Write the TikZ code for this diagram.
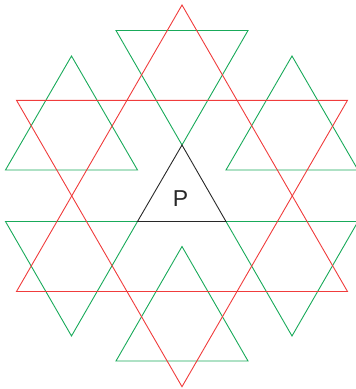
\documentclass[tikz,border=0pt]{standalone}
\usepackage{fontspec}
\setmainfont{Liberation Sans}
\definecolor{tred}{RGB}{240,60,60}
\definecolor{tgreen}{RGB}{25,170,90}
\definecolor{tblack}{RGB}{40,40,40}
\begin{document}
\begin{tikzpicture}[x=1pt,y=-1pt,
  redtri/.style={draw=tred,line width=0.9pt,line join=miter},
  greentri/.style={draw=tgreen,line width=0.9pt,line join=miter},
  ptri/.style={draw=tblack,line width=0.9pt,line join=miter}]
\useasboundingbox (0,0) rectangle (356,389);
\clip (0,0) rectangle (356,389);
% green small triangles
\coordinate (g1a) at (71.5,56); \coordinate (g1b) at (5.5,170); \coordinate (g1c) at (137.5,170);
\coordinate (g2a) at (292,56); \coordinate (g2b) at (226,170); \coordinate (g2c) at (358,170);
\coordinate (g3a) at (116,30.5); \coordinate (g3b) at (248,30.5); \coordinate (g3c) at (182,145);
\coordinate (g4a) at (182,246.5); \coordinate (g4b) at (116,361); \coordinate (g4c) at (248,361);
\coordinate (g5a) at (5.5,221.5); \coordinate (g5b) at (137.5,221.5); \coordinate (g5c) at (71.5,336);
\coordinate (g6a) at (226,221.5); \coordinate (g6b) at (358,221.5); \coordinate (g6c) at (292,336);
\foreach \g in {g1,g2,g3,g4,g5,g6}
  \draw[greentri] (\g a) -- (\g b) -- (\g c) -- cycle;
% red large triangles
\coordinate (r1a) at (182,5); \coordinate (r1b) at (16.5,291.5); \coordinate (r1c) at (347.5,291.5);
\coordinate (r2a) at (16.5,100.3); \coordinate (r2b) at (347.5,100.3); \coordinate (r2c) at (182,386.7);
\draw[redtri] (r1a) -- (r1b) -- (r1c) -- cycle;
\draw[redtri] (r2a) -- (r2b) -- (r2c) -- cycle;
% central triangle P
\coordinate (pa) at (182,145); \coordinate (pb) at (137.5,221.5); \coordinate (pc) at (226,221.5);
\draw[ptri] (pa) -- (pb) -- (pc) -- cycle;
\node[text=tblack,font=\fontsize{23}{25}\selectfont,inner sep=0pt] (P) at (180.5,199) {P};
\end{tikzpicture}
\end{document}
